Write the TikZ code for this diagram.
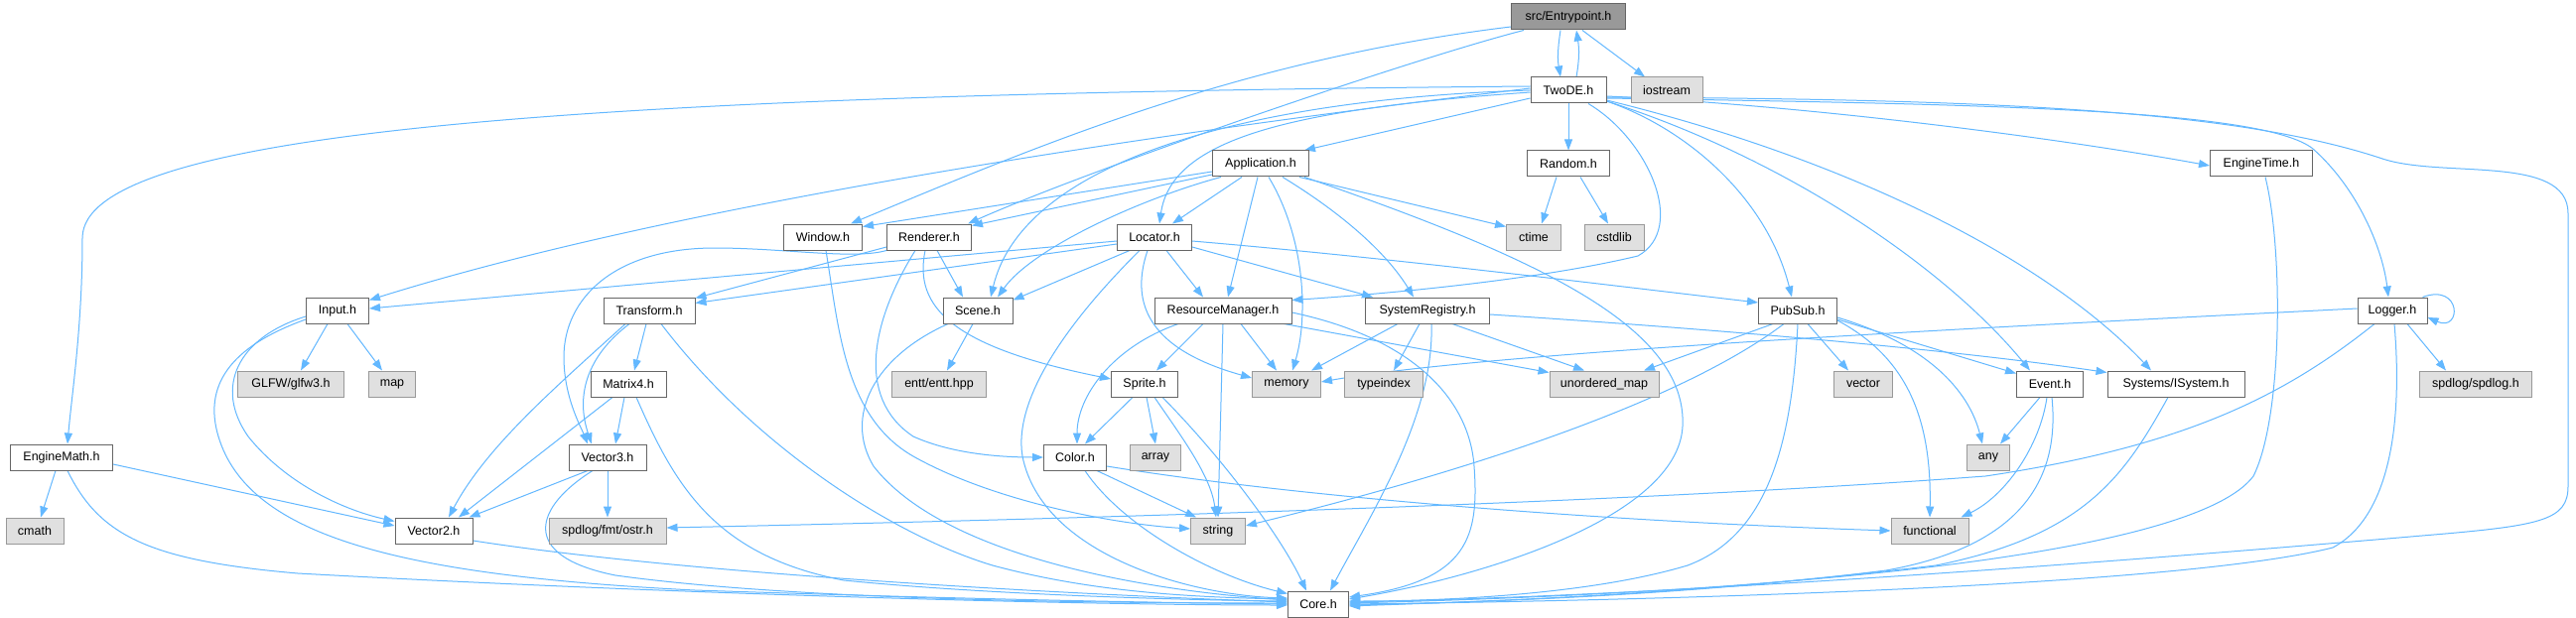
\documentclass[tikz,border=0pt]{standalone}
\usepackage{fontspec}
\setmainfont{Liberation Sans}
\usetikzlibrary{arrows.meta}
\definecolor{edgeblue}{HTML}{63B8FF}
\definecolor{nodeborder}{HTML}{666666}
\definecolor{extfill}{HTML}{E0E0E0}
\definecolor{extborder}{HTML}{999999}
\definecolor{rootfill}{HTML}{999999}
\pgfdeclarelayer{bg}
\pgfdeclarelayer{edges}
\pgfsetlayers{bg,edges,main}
\tikzset{
  hdr/.style={draw=nodeborder, fill=white, line width=1pt, minimum height=26pt, inner sep=0pt,
    font=\fontsize{12.5}{14}\selectfont, text=black},
  ext/.style={hdr, draw=extborder, fill=extfill},
  rootnode/.style={hdr, fill=rootfill},
  dep/.style={draw=edgeblue, line width=1pt, -{Triangle[length=11pt,width=8pt]}}
}
\begin{document}
\begin{tikzpicture}[x=1pt,y=-1pt]
\begin{pgfonlayer}{bg}
\fill[white] (0,0) rectangle (2595,623);
\end{pgfonlayer}
\useasboundingbox (0,0) rectangle (2595,623);
% row 0
\node[rootnode, minimum width=115pt] (ep) at (1580,17) {src/Entrypoint.h};
% row 1
\node[hdr, minimum width=76pt] (twode) at (1580,91) {TwoDE.h};
\node[ext, minimum width=72pt] (iostream) at (1679,91) {iostream};
% row 2
\node[hdr, minimum width=97pt] (app) at (1270,165) {Application.h};
\node[hdr, minimum width=83pt] (random) at (1580,165) {Random.h};
\node[hdr, minimum width=103pt] (etime) at (2278,165) {EngineTime.h};
% row 3
\node[hdr, minimum width=79pt] (window) at (829,239) {Window.h};
\node[hdr, minimum width=85pt] (renderer) at (936,239) {Renderer.h};
\node[hdr, minimum width=75pt] (locator) at (1163,239) {Locator.h};
\node[ext, minimum width=55pt] (ctime) at (1545,239) {ctime};
\node[ext, minimum width=60pt] (cstdlib) at (1626,239) {cstdlib};
% row 4
\node[hdr, minimum width=63pt] (input) at (340,313) {Input.h};
\node[hdr, minimum width=92pt] (transform) at (654,313) {Transform.h};
\node[hdr, minimum width=70pt] (scene) at (985,313) {Scene.h};
\node[hdr, minimum width=138pt] (rm) at (1232,313) {ResourceManager.h};
\node[hdr, minimum width=125pt] (sr) at (1438,313) {SystemRegistry.h};
\node[hdr, minimum width=79pt] (pubsub) at (1811,313) {PubSub.h};
\node[hdr, minimum width=70pt] (logger) at (2410,313) {Logger.h};
% row 5
\node[ext, minimum width=107pt] (glfw) at (293,387) {GLFW/glfw3.h};
\node[ext, minimum width=47pt] (map) at (395,387) {map};
\node[hdr, minimum width=76pt] (matrix) at (633,387) {Matrix4.h};
\node[ext, minimum width=95pt] (entt) at (946,387) {entt/entt.hpp};
\node[hdr, minimum width=67pt] (sprite) at (1153,387) {Sprite.h};
\node[ext, minimum width=69pt] (memory) at (1296,387) {memory};
\node[ext, minimum width=79pt] (typeindex) at (1394,387) {typeindex};
\node[ext, minimum width=110pt] (umap) at (1616,387) {unordered\_map};
\node[ext, minimum width=59pt] (vector) at (1877,387) {vector};
\node[hdr, minimum width=67pt] (event) at (2065,387) {Event.h};
\node[hdr, minimum width=138pt] (isystem) at (2192,387) {Systems/ISystem.h};
\node[ext, minimum width=113pt] (spdlog) at (2494,387) {spdlog/spdlog.h};
% row 6
\node[hdr, minimum width=103pt] (emath) at (62,461) {EngineMath.h};
\node[hdr, minimum width=78pt] (vec3) at (612,461) {Vector3.h};
\node[hdr, minimum width=63pt] (color) at (1083,461) {Color.h};
\node[ext, minimum width=51pt] (array) at (1164,461) {array};
\node[ext, minimum width=43pt] (any) at (2003,461) {any};
% row 7
\node[ext, minimum width=58pt] (cmath) at (35,535) {cmath};
\node[hdr, minimum width=78pt] (vec2) at (437,535) {Vector2.h};
\node[ext, minimum width=118pt] (ostr) at (612,535) {spdlog/fmt/ostr.h};
\node[ext, minimum width=55pt] (string) at (1227,535) {string};
\node[ext, minimum width=78pt] (functional) at (1944,535) {functional};
% row 8
\node[hdr, minimum width=61pt] (core) at (1328,609) {Core.h};

\begin{pgfonlayer}{edges}
% Entrypoint
\draw[dep] ([xshift=-8pt]ep.south) .. controls (1569,50) and (1569,60) .. ([xshift=-8pt]twode.north);
\draw[dep] ([xshift=8pt]twode.north) .. controls (1591,60) and (1591,50) .. ([xshift=8pt]ep.south);
\draw[dep] ([xshift=14pt]ep.south) -- ([xshift=-22pt]iostream.north);
\draw[dep] ([yshift=-10pt]ep.west) .. controls (1250,60) and (1050,145) .. ([xshift=-12pt]window.north east);
\draw[dep] ([xshift=-45pt]ep.south) .. controls (1420,60) and (1100,170) .. ([xshift=-4pt]renderer.north east);
% TwoDE left
\draw[dep] ([yshift=4pt]twode.west) .. controls (600,95) and (83,130) .. (83,240) .. controls (83,330) and (72,400) .. ([xshift=6pt]emath.north);
\draw[dep] ([yshift=2pt]twode.west) .. controls (1200,130) and (700,200) .. ([yshift=-3pt]input.north east);
\draw[dep] (twode.west) .. controls (1250,100) and (1030,165) .. ([xshift=13pt]scene.north);
\draw[dep] ([yshift=-2pt]twode.west) .. controls (1300,110) and (1180,140) .. ([xshift=5pt]locator.north);
\draw[dep] ([yshift=-8pt]twode.west) -- ([xshift=-5pt]app.north east);
\draw[dep] (twode.south) -- (random.north);
\draw[dep] ([xshift=20pt]twode.south) .. controls (1660,140) and (1700,230) .. (1650,258) .. controls (1550,282) and (1400,296) .. ([yshift=-3pt]rm.north east);
% TwoDE right
\draw[dep] ([yshift=-11pt]twode.east) .. controls (1700,130) and (1780,200) .. ([xshift=-6pt]pubsub.north);
\draw[dep] ([yshift=-11pt]twode.east) .. controls (1800,160) and (1960,270) .. ([xshift=-20pt]event.north);
\draw[dep] ([yshift=-10pt]twode.east) .. controls (1860,160) and (2060,260) .. ([xshift=-25pt]isystem.north);
\draw[dep] ([yshift=-6pt]twode.east) .. controls (1800,105) and (2050,135) .. ([yshift=-2pt]etime.west);
\draw[dep] ([yshift=-8pt]twode.east) .. controls (2000,105) and (2280,110) .. (2330,150) .. controls (2375,190) and (2400,250) .. ([xshift=-4pt]logger.north);
\draw[dep] ([yshift=-7pt]twode.east) .. controls (2000,100) and (2250,110) .. (2400,160) .. controls (2460,180) and (2587,155) .. (2587,215) -- (2587,490) .. controls (2587,525) and (2560,530) .. (2440,540) .. controls (2150,565) and (1700,600) .. ([yshift=2pt]core.east);
% Application
\draw[dep] ([yshift=-8pt]app.west) -- ([yshift=-3pt]window.north east);
\draw[dep] ([yshift=-11pt]app.west) -- ([yshift=-2pt]renderer.north east);
\draw[dep] ([xshift=-19pt]app.south) -- ([xshift=18pt]locator.north);
\draw[dep] ([xshift=-40pt]app.south) .. controls (1150,200) and (1040,250) .. ([xshift=20pt]scene.north);
\draw[dep] ([xshift=-3pt]app.south) -- ([xshift=5pt]rm.north);
\draw[dep] ([xshift=8pt]app.south) .. controls (1315,240) and (1318,320) .. ([xshift=6pt]memory.north);
\draw[dep] ([xshift=22pt]app.south) .. controls (1360,220) and (1400,260) .. ([xshift=-14pt]sr.north);
\draw[dep] ([xshift=-10pt]app.south east) -- ([yshift=-3pt]ctime.north west);
\draw[dep] ([xshift=-5pt]app.south east) .. controls (1550,260) and (1700,330) .. (1695,430) .. controls (1690,520) and (1500,580) .. ([yshift=5pt]core.east);
% Random, EngineTime
\draw[dep] ([xshift=-12pt]random.south) -- ([xshift=8pt]ctime.north);
\draw[dep] ([xshift=12pt]random.south) -- ([xshift=-6pt]cstdlib.north);
\draw[dep] ([xshift=4pt]etime.south) .. controls (2300,250) and (2300,420) .. (2270,480) .. controls (2210,560) and (1800,597) .. ([yshift=1pt]core.east);
% Window
\draw[dep] ([xshift=3pt]window.south) .. controls (845,330) and (850,420) .. (920,460) .. controls (1000,505) and (1120,528) .. ([yshift=2pt]string.west);
% Renderer
\draw[dep] ([yshift=-10pt]renderer.west) -- ([yshift=-1pt]transform.north east);
\draw[dep] ([xshift=8pt]renderer.south) -- ([xshift=-15pt]scene.north);
\draw[dep] ([xshift=-4pt]renderer.south) .. controls (920,310) and (960,350) .. ([yshift=5pt]sprite.west);
\draw[dep] ([xshift=-14pt]renderer.south) .. controls (880,320) and (860,400) .. (920,440) .. controls (960,458) and (1010,461) .. (color.west);
\draw[dep] (renderer.south west) .. controls (860,262) and (790,250) .. (720,250) .. controls (620,250) and (568,300) .. (568,360) .. controls (568,400) and (585,430) .. ([xshift=-20pt]vec3.north);
% Locator
\draw[dep] ([yshift=-4pt]locator.west) -- ([yshift=2pt]input.east);
\draw[dep] ([yshift=-7pt]locator.west) -- ([yshift=-6pt]transform.north east);
\draw[dep] ([xshift=-25pt]locator.south) -- ([yshift=-3pt]scene.north east);
\draw[dep] ([xshift=12pt]locator.south) -- ([xshift=-20pt]rm.north);
\draw[dep] ([yshift=-10pt]locator.east) -- ([xshift=-55pt]sr.north);
\draw[dep] ([yshift=-4pt]locator.east) .. controls (1400,260) and (1600,285) .. ([yshift=8pt]pubsub.west);
\draw[dep] ([xshift=-7pt]locator.south) .. controls (1140,300) and (1150,350) .. ([yshift=6pt]memory.west);
\draw[dep] ([xshift=-15pt]locator.south) .. controls (1080,320) and (1020,400) .. (1030,460) .. controls (1050,560) and (1200,600) .. ([yshift=6pt]core.west);
% Scene
\draw[dep] ([xshift=-5pt]scene.south) -- ([xshift=8pt]entt.north);
\draw[dep] ([xshift=-30pt]scene.south) .. controls (880,360) and (850,420) .. (880,470) .. controls (950,560) and (1150,595) .. ([yshift=4pt]core.west);
% ResourceManager
\draw[dep] ([xshift=-20pt]rm.south) -- ([xshift=12pt]sprite.north);
\draw[dep] ([xshift=-45pt]rm.south) .. controls (1120,350) and (1085,400) .. ([xshift=2pt]color.north);
\draw[dep] (rm.south) -- (string.north);
\draw[dep] ([xshift=18pt]rm.south) -- ([xshift=-10pt]memory.north);
\draw[dep] ([xshift=-8pt]rm.south east) -- ([yshift=-2pt]umap.north west);
\draw[dep] ([yshift=-2pt]rm.east) .. controls (1420,340) and (1480,400) .. (1485,470) .. controls (1490,540) and (1480,585) .. ([yshift=7pt]core.east);
% SystemRegistry
\draw[dep] ([xshift=-30pt]sr.south) -- ([xshift=25pt]memory.north);
\draw[dep] ([xshift=-8pt]sr.south) -- ([xshift=10pt]typeindex.north);
\draw[dep] ([xshift=25pt]sr.south) -- ([xshift=-20pt]umap.north);
\draw[dep] ([xshift=4pt]sr.south) .. controls (1445,420) and (1380,520) .. ([xshift=12pt]core.north);
\draw[dep] ([yshift=-4pt]sr.east) .. controls (1700,330) and (1950,350) .. ([yshift=-2pt]isystem.north west);
% PubSub
\draw[dep] ([xshift=-25pt]pubsub.south) -- ([xshift=40pt]umap.north);
\draw[dep] ([xshift=10pt]pubsub.south) -- ([xshift=-15pt]vector.north);
\draw[dep] ([yshift=-7pt]pubsub.east) .. controls (1950,350) and (1985,400) .. ([xshift=-6pt]any.north);
\draw[dep] ([yshift=-10pt]pubsub.east) .. controls (1920,360) and (1946,420) .. (functional.north);
\draw[dep] ([yshift=-9pt]pubsub.east) -- ([yshift=-3pt]event.north west);
\draw[dep] ([xshift=-14pt]pubsub.south) .. controls (1700,400) and (1500,470) .. ([yshift=5pt]string.east);
\draw[dep] (pubsub.south) .. controls (1805,450) and (1780,540) .. (1700,570) .. controls (1600,600) and (1450,606) .. ([yshift=3pt]core.east);
% Logger
\draw[dep] ([yshift=2pt]logger.west) .. controls (2000,330) and (1500,355) .. ([yshift=2pt]memory.east);
\draw[dep] ([xshift=-5pt]logger.north east) .. controls (2480,285) and (2480,335) .. ([yshift=-7pt]logger.east);
\draw[dep] ([xshift=15pt]logger.south) -- ([xshift=-30pt]spdlog.north);
\draw[dep] ([xshift=-18pt]logger.south) .. controls (2300,400) and (2200,450) .. (2000,480) .. controls (1600,510) and (1000,525) .. ([yshift=3pt]ostr.east);
\draw[dep] ([xshift=2pt]logger.south) .. controls (2420,420) and (2410,520) .. (2350,552) .. controls (2200,590) and (1700,605) .. (core.east);
% Input
\draw[dep] ([xshift=-10pt]input.south) -- ([xshift=10pt]glfw.north);
\draw[dep] ([xshift=10pt]input.south) -- ([xshift=-10pt]map.north);
\draw[dep] ([yshift=-6pt]input.west) .. controls (240,340) and (215,390) .. (250,440) .. controls (290,490) and (350,515) .. ([yshift=-4pt]vec2.north west);
\draw[dep] ([yshift=-9pt]input.west) .. controls (230,350) and (205,390) .. (220,440) .. controls (250,540) and (400,580) .. (700,595) .. controls (1000,605) and (1200,608) .. (core.west);
% Transform
\draw[dep] ([xshift=-3pt]transform.south) -- ([xshift=6pt]matrix.north);
\draw[dep] ([xshift=-20pt]transform.south) .. controls (590,360) and (580,400) .. ([xshift=-16pt]vec3.north);
\draw[dep] ([xshift=-24pt]transform.south) .. controls (560,390) and (490,450) .. ([xshift=15pt]vec2.north);
\draw[dep] ([xshift=12pt]transform.south) .. controls (760,450) and (900,540) .. (1000,570) .. controls (1100,597) and (1200,602) .. ([yshift=5pt]core.west);
% Matrix4
\draw[dep] ([xshift=-4pt]matrix.south) -- ([xshift=8pt]vec3.north);
\draw[dep] ([xshift=-16pt]matrix.south) -- ([xshift=25pt]vec2.north);
\draw[dep] ([xshift=8pt]matrix.south) .. controls (680,490) and (720,560) .. (850,585) .. controls (1000,600) and (1200,605) .. ([yshift=3pt]core.west);
% Vector3
\draw[dep] ([xshift=-20pt]vec3.south) -- ([xshift=-4pt]vec2.north east);
\draw[dep] (vec3.south) -- (ostr.north);
\draw[dep] ([xshift=-15pt]vec3.south) .. controls (540,510) and (520,560) .. (620,580) .. controls (800,605) and (1100,608) .. ([yshift=1pt]core.west);
% Vector2
\draw[dep] ([yshift=-10pt]vec2.east) .. controls (700,580) and (1100,600) .. ([yshift=2pt]core.west);
% EngineMath
\draw[dep] ([xshift=-6pt]emath.south) -- ([xshift=6pt]cmath.north);
\draw[dep] ([yshift=-7pt]emath.east) -- ([yshift=5pt]vec2.west);
\draw[dep] ([xshift=6pt]emath.south) .. controls (100,540) and (150,565) .. (300,578) .. controls (700,600) and (1100,610) .. ([yshift=-1pt]core.west);
% Sprite
\draw[dep] ([xshift=-12pt]sprite.south) -- ([xshift=10pt]color.north);
\draw[dep] ([xshift=2pt]sprite.south) -- (array.north);
\draw[dep] ([xshift=10pt]sprite.south) .. controls (1190,440) and (1220,480) .. ([xshift=-2pt]string.north);
\draw[dep] ([xshift=18pt]sprite.south) .. controls (1230,460) and (1290,540) .. ([xshift=-12pt]core.north);
% Color
\draw[dep] ([xshift=22pt]color.south) -- ([xshift=-22pt]string.north);
\draw[dep] ([xshift=10pt]color.south) .. controls (1130,530) and (1220,580) .. ([yshift=-3pt]core.north west);
\draw[dep] ([yshift=-9pt]color.east) .. controls (1300,500) and (1600,525) .. (functional.west);
% Event, ISystem
\draw[dep] ([xshift=-10pt]event.south) -- ([xshift=12pt]any.north);
\draw[dep] ([xshift=-3pt]event.south) .. controls (2055,450) and (2020,500) .. ([xshift=-8pt]functional.north east);
\draw[dep] ([xshift=2pt]event.south) .. controls (2075,480) and (2040,550) .. (1900,575) .. controls (1700,600) and (1500,607) .. ([yshift=-1pt]core.east);
\draw[dep] ([xshift=-8pt]isystem.south) .. controls (2140,480) and (2100,540) .. (1950,570) .. controls (1700,600) and (1500,606) .. ([yshift=-2pt]core.east);
\end{pgfonlayer}
\end{tikzpicture}
\end{document}
